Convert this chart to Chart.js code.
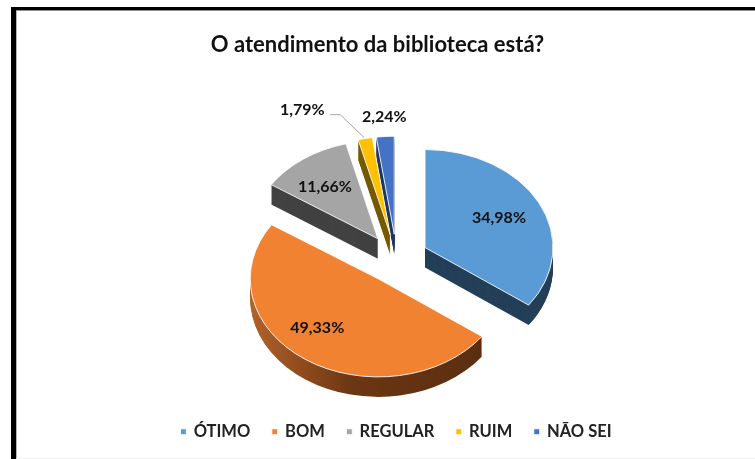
<!DOCTYPE html>
<html><head><meta charset="utf-8">
<style>
html,body{margin:0;padding:0;background:#fff;overflow:hidden}
#wrap{position:relative;width:755px;height:459px;overflow:hidden;background:#fff}
#frame{position:absolute;left:11px;top:7px;width:744px;height:452px;box-sizing:border-box;border-top:3px solid #000;border-left:5px solid #000;box-shadow:inset 0 1px 0 #8f8f8f,inset 1px 0 0 #b5b5b5}
#base{position:absolute;left:16px;right:0;top:458px;height:1px;background:#f1f1f1}
canvas{position:absolute;left:0;top:0;filter:blur(0.45px)}
</style>
<script src="https://cdn.jsdelivr.net/npm/chart.js@4"></script>
</head><body>
<div id="wrap"><div id="frame"></div><div id="base"></div><canvas id="c" width="755" height="459"></canvas></div>
<script>
const titleText = 'O atendimento da biblioteca está?';
const categories = ['ÓTIMO', 'BOM', 'REGULAR', 'RUIM', 'NÃO SEI'];
const values = [34.98, 49.33, 11.66, 1.79, 2.24];
const valueLabels = ['34,98%', '49,33%', '11,66%', '1,79%', '2,24%'];
const topColors = ['#5B9BD5', '#F08232', '#A5A5A5', '#FFC000', '#4472C4'];
const wallColors = ['#243F58', null, '#424242', '#765A00', '#203864'];

const RADIUS = 128, SQUASH = 0.766, DEPTH = 20, EXPLODE = 32;
const labelShift = [[74, -30], [-61, 49], [-53, -52], [-88, -125], [-10, -117]];
const FONT = 'Lato, Carlito, Calibri, sans-serif';

const pie3d = {
  id: 'pie3d',
  afterLayout(chart) {
    chart.titleBlock.left = 0;
    chart.titleBlock.right = 755;
  },
  afterDatasetsUpdate(chart) {
    chart.getDatasetMeta(0).data.forEach(a => {
      const mid = (a.startAngle + a.endAngle) / 2;
      a.x += Math.cos(mid) * EXPLODE;
      a.y += Math.sin(mid) * EXPLODE;
    });
  },
  squash(chart) {
    const a = chart.chartArea, cy = (a.top + a.bottom) / 2;
    const ctx = chart.ctx;
    ctx.translate(0, cy); ctx.scale(1, SQUASH); ctx.translate(0, -cy);
  },
  beforeDatasetsDraw(chart) {
    const ctx = chart.ctx, arcs = chart.getDatasetMeta(0).data;
    const grad = ctx.createLinearGradient(250, 0, 480, 0);
    grad.addColorStop(0, '#B2622A');
    grad.addColorStop(0.45, '#6B3613');
    grad.addColorStop(1, '#5C2E10');
    arcs.forEach((arc, i) => {
      const saved = arc.options;
      arc.options = Object.assign({}, saved, {backgroundColor: wallColors[i] || grad, borderWidth: 0});
      for (let d = DEPTH; d >= 1; d--) {
        ctx.save();
        ctx.translate(0, d);
        this.squash(chart);
        arc.draw(ctx);
        ctx.restore();
      }
      arc.options = saved;
    });
    ctx.save();
    this.squash(chart);
  },
  afterDatasetsDraw(chart) {
    const ctx = chart.ctx;
    ctx.restore();
    const a = chart.chartArea, cy = (a.top + a.bottom) / 2;
    const arcs = chart.getDatasetMeta(0).data;
    const apex = arcs.map(p => [p.x, cy + (p.y - cy) * SQUASH]);
    // leader line of the RUIM label
    ctx.save();
    ctx.strokeStyle = '#A6A6A6'; ctx.lineWidth = 1;
    ctx.beginPath();
    ctx.moveTo(apex[3][0] - 60, apex[3][1] - 120);
    ctx.lineTo(apex[3][0] - 50, apex[3][1] - 120);
    ctx.lineTo(apex[3][0] - 26, apex[3][1] - 97);
    ctx.stroke();
    ctx.font = 'bold 16px ' + FONT;
    ctx.fillStyle = '#111';
    ctx.textAlign = 'center'; ctx.textBaseline = 'middle';
    valueLabels.forEach((t, i) => {
      ctx.fillText(t, apex[i][0] + labelShift[i][0], apex[i][1] + labelShift[i][1]);
    });
    ctx.restore();
  }
};

new Chart(document.getElementById('c'), {
  type: 'pie',
  data: {
    labels: categories,
    datasets: [{data: values, backgroundColor: topColors, borderColor: '#ffffff', borderWidth: 1, offset: 0}]
  },
  plugins: [pie3d],
  options: {
    responsive: false,
    animation: false,
    events: [],
    radius: RADIUS,
    layout: {padding: {left: 38, right: 0, top: 0, bottom: 9}},
    plugins: {
      tooltip: {enabled: false},
      title: {display: true, text: titleText, color: '#111', font: {family: FONT, size: 22, weight: 'bold'}, padding: {top: 32, bottom: 58}},
      legend: {
        position: 'bottom',
        labels: {usePointStyle: true, pointStyle: 'rect', boxWidth: 4, boxHeight: 6, padding: 22.5, color: '#222', font: {family: FONT, size: 16.5, weight: 'bold'}}
      }
    }
  }
});
</script>
</body></html>
